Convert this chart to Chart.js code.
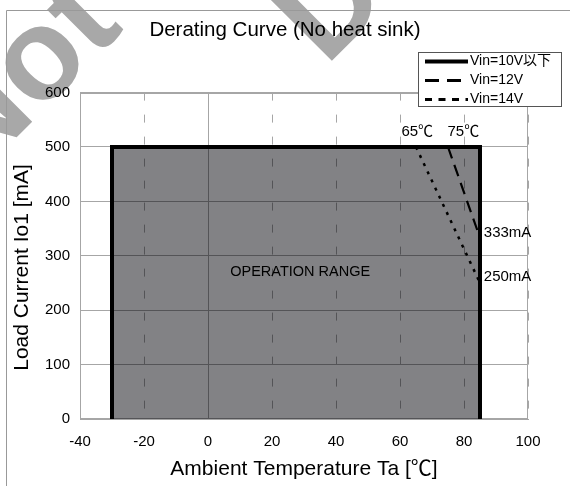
<!DOCTYPE html>
<html>
<head>
<meta charset="utf-8">
<script src="https://cdn.jsdelivr.net/npm/chart.js@4.4.1/dist/chart.umd.min.js"></script>
<style>
  html, body { margin: 0; padding: 0; background: #fff; }
  canvas { display: block; }
</style>
</head>
<body>
<canvas id="myChart" width="570" height="486"></canvas>
<script>
const FONT = '"Liberation Sans", Arial, "Noto Sans CJK JP", sans-serif';

// data
const seriesLabels = ["Vin=10V以下", "Vin=12V", "Vin=14V"];
const temp10 = [-30, -30, 85, 85];
const load10 = [0, 500, 500, 0];
const temp12 = [75, 85];
const load12 = [500, 333];
const temp14 = [65, 85];
const load14 = [500, 250];
const xTicks = [-40, -20, 0, 20, 40, 60, 80, 100];
const yTicks = [0, 100, 200, 300, 400, 500, 600];
const noteLabels = ["65℃", "75℃", "333mA", "250mA"];
const rangeLabel = "OPERATION RANGE";

const toPoints = (xs, ys) => xs.map((x, i) => ({ x: x, y: ys[i] }));
const GRID = "#a6a6a6";

// grey watermark behind the chart
const watermark = {
  id: "watermark",
  beforeDraw(chart) {
    const ctx = chart.ctx;
    ctx.save();
    ctx.translate(-25, 190);
    ctx.rotate(-Math.PI / 4);
    ctx.font = "bold 130px " + FONT;
    ctx.fillStyle = "#a8a8a8";
    ctx.textBaseline = "alphabetic";
    ctx.fillText("Not Recommended for", 3.5, -7.8);
    ctx.fillText("Designs", 335, 161);
    ctx.restore();
  }
};

// plot border and solid line at 0
const plotFrame = {
  id: "plotFrame",
  beforeDatasetsDraw(chart) {
    const { ctx, chartArea: a, scales } = chart;
    const l = Math.round(a.left) + 0.5, r = Math.round(a.right) - 0.5;
    const t = Math.round(a.top) + 0.5, b = Math.round(a.bottom) - 0.5;
    ctx.save();
    ctx.strokeStyle = GRID;
    ctx.lineWidth = 1;
    ctx.strokeRect(l, t, r - l, b - t);
    const x0 = Math.round(scales.x.getPixelForValue(0)) + 0.5;
    ctx.beginPath();
    ctx.moveTo(x0, a.top);
    ctx.lineTo(x0, a.bottom);
    ctx.stroke();
    ctx.restore();
  }
};

// text notes on the curve
const notes = {
  id: "notes",
  afterDatasetsDraw(chart) {
    const { ctx, scales: { x, y } } = chart;
    ctx.save();
    ctx.fillStyle = "#000";
    ctx.font = "15px " + FONT;
    ctx.textBaseline = "middle";
    ctx.textAlign = "center";
    ctx.fillText(noteLabels[0], x.getPixelForValue(65.4), y.getPixelForValue(527));
    ctx.fillText(noteLabels[1], x.getPixelForValue(79.8), y.getPixelForValue(527));
    ctx.textAlign = "left";
    ctx.fillText(noteLabels[2], x.getPixelForValue(86.2), y.getPixelForValue(342));
    ctx.fillText(noteLabels[3], x.getPixelForValue(86.2), y.getPixelForValue(261));
    ctx.textAlign = "center";
    ctx.font = "14.5px " + FONT;
    ctx.fillText(rangeLabel, x.getPixelForValue(28.8), y.getPixelForValue(270));
    ctx.restore();
  }
};

// boxed legend at the top right, plus the outer frame
const boxLegend = {
  id: "boxLegend",
  afterDraw(chart, args, opts) {
    const ctx = chart.ctx;
    ctx.save();
    ctx.strokeStyle = "#999";
    ctx.lineWidth = 1;
    ctx.beginPath();
    ctx.moveTo(570, 10.5);
    ctx.lineTo(6.5, 10.5);
    ctx.lineTo(6.5, 486);
    ctx.stroke();

    ctx.fillStyle = "#fff";
    ctx.fillRect(418, 52, 144, 55);
    ctx.strokeStyle = "#555";
    ctx.strokeRect(418.5, 52.5, 143, 54);
    ctx.font = "14px " + FONT;
    ctx.textBaseline = "middle";
    ctx.textAlign = "left";
    chart.data.datasets.forEach((ds, i) => {
      const yy = 61.5 + i * 19;
      ctx.strokeStyle = "#000";
      ctx.lineWidth = opts.widths[i];
      ctx.setLineDash(opts.dashes[i]);
      ctx.beginPath();
      ctx.moveTo(425, yy);
      ctx.lineTo(468, yy);
      ctx.stroke();
      ctx.setLineDash([]);
      ctx.fillStyle = "#000";
      ctx.fillText(ds.label, 470, yy);
    });
    ctx.restore();
  }
};

new Chart(document.getElementById("myChart"), {
  type: "line",
  data: {
    datasets: [
      {
        label: seriesLabels[0],
        data: toPoints(temp10, load10),
        borderColor: "#000",
        borderWidth: 4,
        borderJoinStyle: "miter",
        fill: "origin",
        backgroundColor: "rgba(0,0,6,0.49)",
        pointRadius: 0,
        tension: 0,
        order: 3
      },
      {
        label: seriesLabels[1],
        data: toPoints(temp12, load12),
        borderColor: "#000",
        borderWidth: 2.2,
        borderDash: [12, 7],
        fill: false,
        pointRadius: 0,
        order: 2
      },
      {
        label: seriesLabels[2],
        data: toPoints(temp14, load14),
        borderColor: "#000",
        borderWidth: 2.5,
        borderDash: [3, 6],
        fill: false,
        pointRadius: 0,
        order: 1
      }
    ]
  },
  options: {
    responsive: false,
    animation: false,
    devicePixelRatio: 1,
    layout: { padding: 0 },
    plugins: {
      legend: { display: false },
      tooltip: { enabled: false },
      title: {
        display: true,
        text: "Derating Curve (No heat sink)",
        color: "#000",
        font: { family: FONT, size: 20.5, weight: "normal" },
        padding: { top: 18, bottom: 50 }
      },
      boxLegend: {
        widths: [4, 3, 3],
        dashes: [[], [14, 8], [7, 6.5]]
      }
    },
    scales: {
      x: {
        type: "linear",
        min: xTicks[0],
        max: xTicks[xTicks.length - 1],
        afterBuildTicks: (s) => { s.ticks = xTicks.map((v) => ({ value: v })); },
        afterFit: (s) => { s.height = 67; },
        grid: { color: GRID, lineWidth: 1, drawTicks: false },
        border: { display: true, color: GRID, dash: [8, 14] },
        ticks: { color: "#000", font: { family: FONT, size: 15 }, padding: 14, maxRotation: 0 },
        title: {
          display: true,
          text: "Ambient Temperature Ta [℃]",
          color: "#000",
          font: { family: FONT, size: 21 },
          padding: { top: 0, bottom: 4 }
        }
      },
      y: {
        min: yTicks[0],
        max: yTicks[yTicks.length - 1],
        afterBuildTicks: (s) => { s.ticks = yTicks.map((v) => ({ value: v })); },
        afterFit: (s) => { s.width = 80; },
        grid: { color: GRID, lineWidth: 1, drawTicks: false },
        border: { display: true, color: GRID },
        ticks: { color: "#000", font: { family: FONT, size: 15 }, padding: 10 },
        title: {
          display: true,
          text: "Load Current Io1 [mA]    ",
          color: "#000",
          font: { family: FONT, size: 21 },
          padding: { top: 10, bottom: 0 }
        }
      },
      // empty right axis that only reserves the margin beside the plot
      yRight: {
        position: "right",
        min: yTicks[0],
        max: yTicks[yTicks.length - 1],
        afterFit: (s) => { s.width = 42; },
        grid: { display: false },
        border: { display: false },
        ticks: { display: false }
      }
    }
  },
  plugins: [watermark, plotFrame, notes, boxLegend]
});
</script>
</body>
</html>
